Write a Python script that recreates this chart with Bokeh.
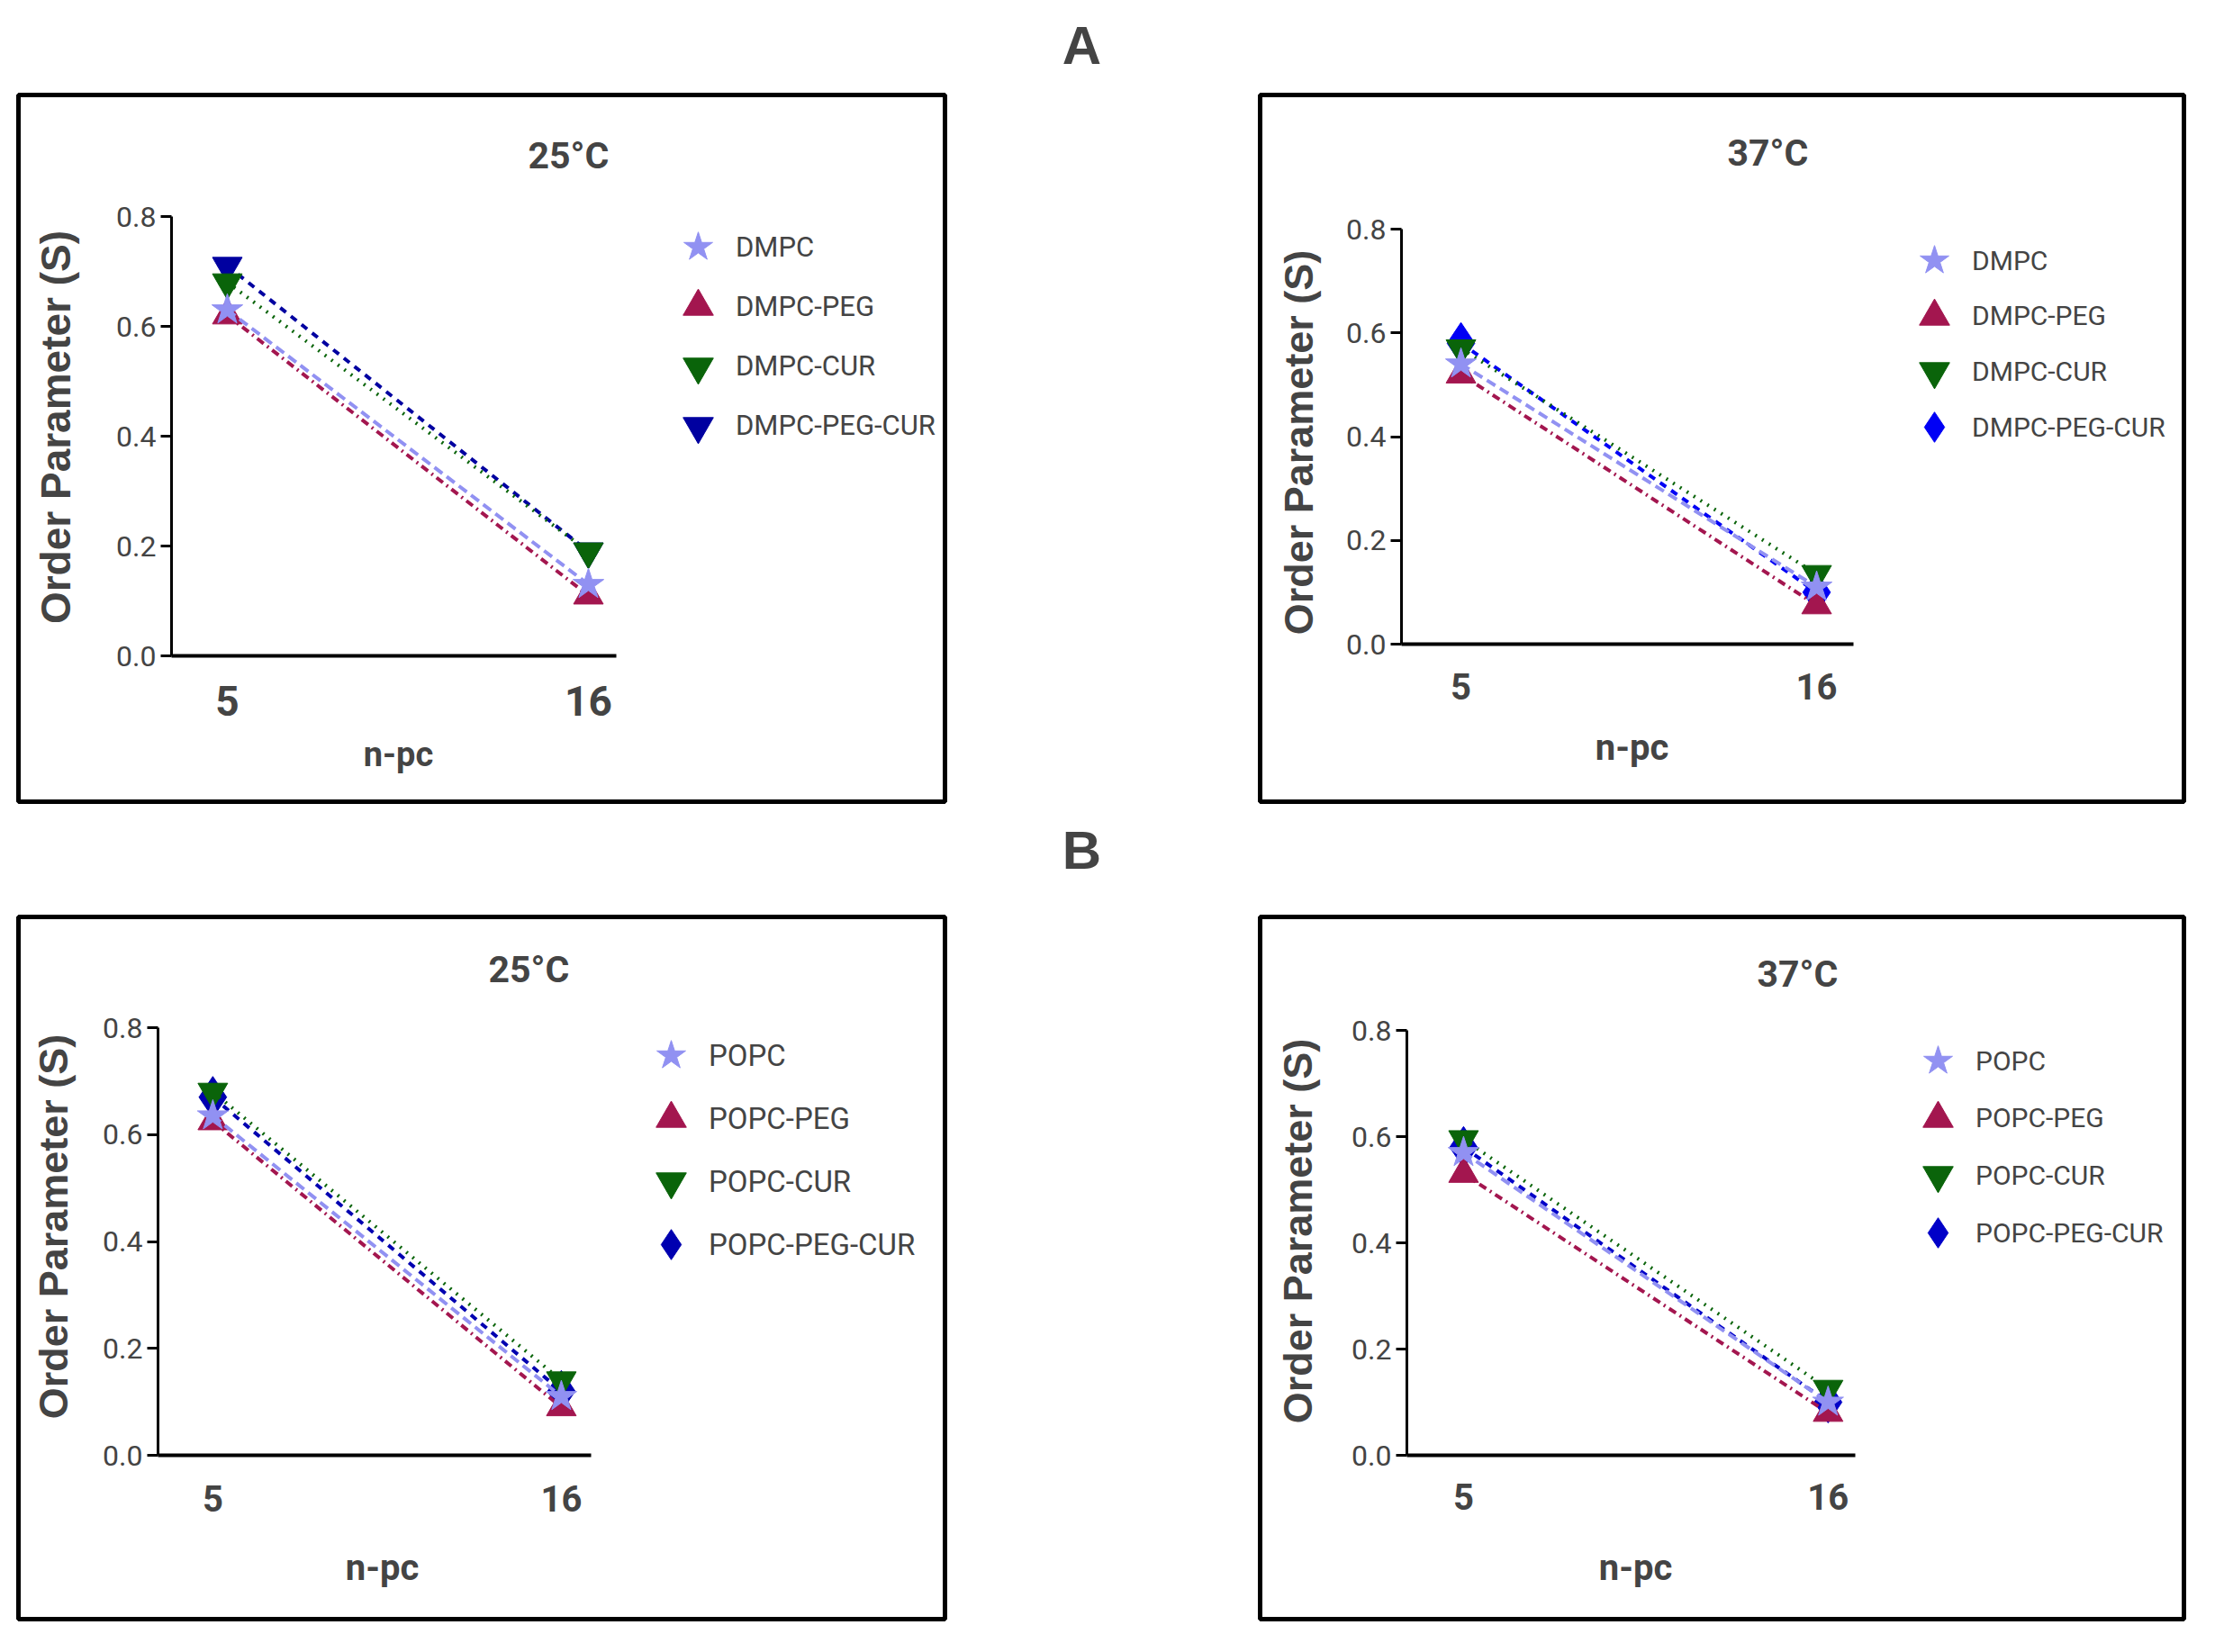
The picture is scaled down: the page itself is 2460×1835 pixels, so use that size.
import math

from bokeh.plotting import figure
from bokeh.layouts import column, row
from bokeh.models import (Range1d, FixedTicker, Legend, LegendItem, Label, Spacer,
                          PrintfTickFormatter, LinearAxis)
from bokeh.embed import file_html
from bokeh.resources import INLINE

# ---- data ----
n_pc = [5, 16]
y_ticks = [0.0, 0.2, 0.4, 0.6, 0.8]

dmpc_labels = ["DMPC", "DMPC-PEG", "DMPC-CUR", "DMPC-PEG-CUR"]
popc_labels = ["POPC", "POPC-PEG", "POPC-CUR", "POPC-PEG-CUR"]

# DMPC, 25 C
dmpc_25 = [0.63, 0.13]
dmpc_peg_25 = [0.62, 0.11]
dmpc_cur_25 = [0.68, 0.19]
dmpc_peg_cur_25 = [0.71, 0.19]
# DMPC, 37 C
dmpc_37 = [0.54, 0.11]
dmpc_peg_37 = [0.52, 0.075]
dmpc_cur_37 = [0.57, 0.135]
dmpc_peg_cur_37 = [0.58, 0.10]
# POPC, 25 C
popc_25 = [0.635, 0.11]
popc_peg_25 = [0.625, 0.09]
popc_cur_25 = [0.68, 0.14]
popc_peg_cur_25 = [0.67, 0.12]
# POPC, 37 C
popc_37 = [0.57, 0.10]
popc_peg_37 = [0.53, 0.08]
popc_cur_37 = [0.595, 0.125]
popc_peg_cur_37 = [0.58, 0.10]

# ---- styling ----
NARROW = "Roboto"
ARIAL = "Liberation Sans"
STAR_C = "#9191F2"
PEG_C = "#A3164F"
CUR_C = "#0A640A"
DASHES = ["11 6", "9 5 2 5", "2 7", "8 7"]
SIZES = {"star": 36, "triangle": 33, "inverted_triangle": 33, "diamond": 46}
GLYPH = 84  # legend glyph box; bokeh draws the legend marker at 0.4 * box
EDGE = 3    # frame inset; the frame outline is the panel box


def panel(title, labels, series, blue, blue_marker, g):
    # g holds page-pixel geometry
    bx, by, w, h = g["box"]
    L, axis_end, T08, B0 = g["frame"]
    x0, x1 = g["xr"]
    upx = (axis_end - L) / (x1 - x0)
    upy = (B0 - T08) / 0.8

    def X(px):
        return x0 + (px - L) / upx

    def Y(py):
        return (B0 - py) / upy

    p = figure(width=w, height=h,
               x_range=Range1d(X(bx + EDGE), X(bx + w - EDGE)),
               y_range=Range1d(Y(by + h - EDGE), Y(by + EDGE)),
               output_backend="svg", toolbar_location=None, title_location=None,
               x_axis_location=None, y_axis_location=None, min_border=EDGE)
    p.grid.visible = False
    p.outline_line_color = "black"
    p.outline_line_width = 5

    xa = LinearAxis(fixed_location=0, bounds=(x0, x1), ticker=FixedTicker(ticks=n_pc))
    xa.axis_line_width = 4
    xa.major_tick_line_color = None
    xa.major_tick_out = 0
    xa.major_tick_in = 0
    xa.minor_tick_line_color = None
    xa.major_label_text_font = NARROW
    xa.major_label_text_font_style = "bold"
    xa.major_label_text_font_size = "%dpx" % g["xt_size"]
    xa.major_label_standoff = g["xt_stand"]
    p.add_layout(xa, "below")

    ya = LinearAxis(fixed_location=x0, bounds=(0, 0.8), ticker=FixedTicker(ticks=y_ticks),
                    formatter=PrintfTickFormatter(format="%.1f"))
    ya.axis_line_width = 3
    ya.major_tick_line_width = 3
    ya.major_tick_out = 12
    ya.major_tick_in = 0
    ya.minor_tick_line_color = None
    ya.major_label_text_font = NARROW
    ya.major_label_text_font_size = "32px"
    ya.major_label_standoff = 5
    p.add_layout(ya, "left")

    colors = [STAR_C, PEG_C, CUR_C, blue]
    markers = ["star", "triangle", "inverted_triangle", blue_marker]
    rs = [None] * 4
    for i in [3, 2, 1, 0]:
        p.line(n_pc, series[i], line_color=colors[i], line_width=4, line_dash=DASHES[i])
        rs[i] = p.scatter(n_pc, series[i], marker=markers[i], size=SIZES[markers[i]],
                          fill_color=colors[i], line_color=colors[i])

    tx, ty = g["title"]
    p.add_layout(Label(x=X(tx), y=Y(ty), text=title, text_font=NARROW, text_font_style="bold",
                       text_font_size="41px", text_align="center", text_baseline="middle"))
    lx, ly = g["xlab"]
    p.add_layout(Label(x=X(lx), y=Y(ly), text="n-pc", text_font=NARROW, text_font_style="bold",
                       text_font_size="%dpx" % g["xl_size"], text_align="center",
                       text_baseline="middle"))
    vx, vy = g["ylab"]
    p.add_layout(Label(x=X(vx), y=Y(vy), text="Order Parameter (S)", angle=math.pi / 2,
                       text_font=ARIAL, text_font_style="bold",
                       text_font_size="%dpx" % g["yl_size"], text_align="center",
                       text_baseline="middle"))

    # one single-entry legend per series, so markers keep their size at tight spacing
    mx, my, pitch = g["leg"]
    for i in range(4):
        cy = my + i * pitch
        leg = Legend(items=[LegendItem(label=labels[i], renderers=[rs[i]])],
                     location=(mx - GLYPH / 2 - (bx + EDGE), (by + h - EDGE) - (cy + GLYPH / 2)),
                     glyph_width=GLYPH, glyph_height=GLYPH, label_standoff=0,
                     padding=0, margin=0, border_line_color=None, background_fill_alpha=0,
                     label_text_font=NARROW, label_text_font_size="%dpx" % g["leg_size"],
                     label_text_baseline="middle")
        p.add_layout(leg)
    return p


def header(text, h, cy):
    p = figure(width=2444, height=h, x_range=Range1d(0, 2444), y_range=Range1d(0, h),
               output_backend="svg", toolbar_location=None, min_border=0,
               x_axis_location=None, y_axis_location=None)
    p.grid.visible = False
    p.outline_line_color = None
    p.add_layout(Label(x=1201, y=h - cy, text=text, text_font=ARIAL, text_font_style="bold",
                       text_font_size="60px", text_align="center", text_baseline="middle"))
    return p


geo_a1 = dict(box=(25, 110, 1035, 791), frame=(198, 692, 248, 736), xr=(3.30, 16.85),
              title=(639, 180), xlab=(450, 845), ylab=(69, 482),
              leg=(783, 282, 66.3), leg_size=31,
              xt_size=46, xt_stand=33, xl_size=38, yl_size=46)
geo_a2 = dict(box=(1404, 110, 1032, 791), frame=(1564, 2066, 262, 723), xr=(3.16, 17.14),
              title=(1971, 177), xlab=(1820, 838), ylab=(1450, 499),
              leg=(2156, 297, 61.7), leg_size=30,
              xt_size=40, xt_stand=32, xl_size=40, yl_size=45)
geo_b1 = dict(box=(25, 1023, 1035, 786), frame=(183, 664, 1149, 1624), xr=(3.27, 16.94),
              title=(595, 1084), xlab=(432, 1749), ylab=(67, 1370),
              leg=(753, 1180, 70.0), leg_size=33,
              xt_size=40, xt_stand=33, xl_size=40, yl_size=45)
geo_b2 = dict(box=(1404, 1023, 1032, 786), frame=(1570, 2068, 1152, 1624), xr=(3.29, 16.82),
              title=(2004, 1089), xlab=(1824, 1749), ylab=(1449, 1375),
              leg=(2160, 1186, 63.7), leg_size=30,
              xt_size=40, xt_stand=31, xl_size=40, yl_size=45)

pa1 = panel("25°C", dmpc_labels, [dmpc_25, dmpc_peg_25, dmpc_cur_25, dmpc_peg_cur_25],
            "#0000A0", "inverted_triangle", geo_a1)
pa2 = panel("37°C", dmpc_labels, [dmpc_37, dmpc_peg_37, dmpc_cur_37, dmpc_peg_cur_37],
            "#0000F5", "diamond", geo_a2)
pb1 = panel("25°C", popc_labels, [popc_25, popc_peg_25, popc_cur_25, popc_peg_cur_25],
            "#0000B0", "diamond", geo_b1)
pb2 = panel("37°C", popc_labels, [popc_37, popc_peg_37, popc_cur_37, popc_peg_cur_37],
            "#0000C8", "diamond", geo_b2)

layout = column(
    header("A", 102, 50),
    row(Spacer(width=17, height=791), pa1, Spacer(width=344, height=791), pa2),
    header("B", 122, 51),
    row(Spacer(width=17, height=786), pb1, Spacer(width=344, height=786), pb2),
)

open("out.html", "w").write(file_html(layout, INLINE))
